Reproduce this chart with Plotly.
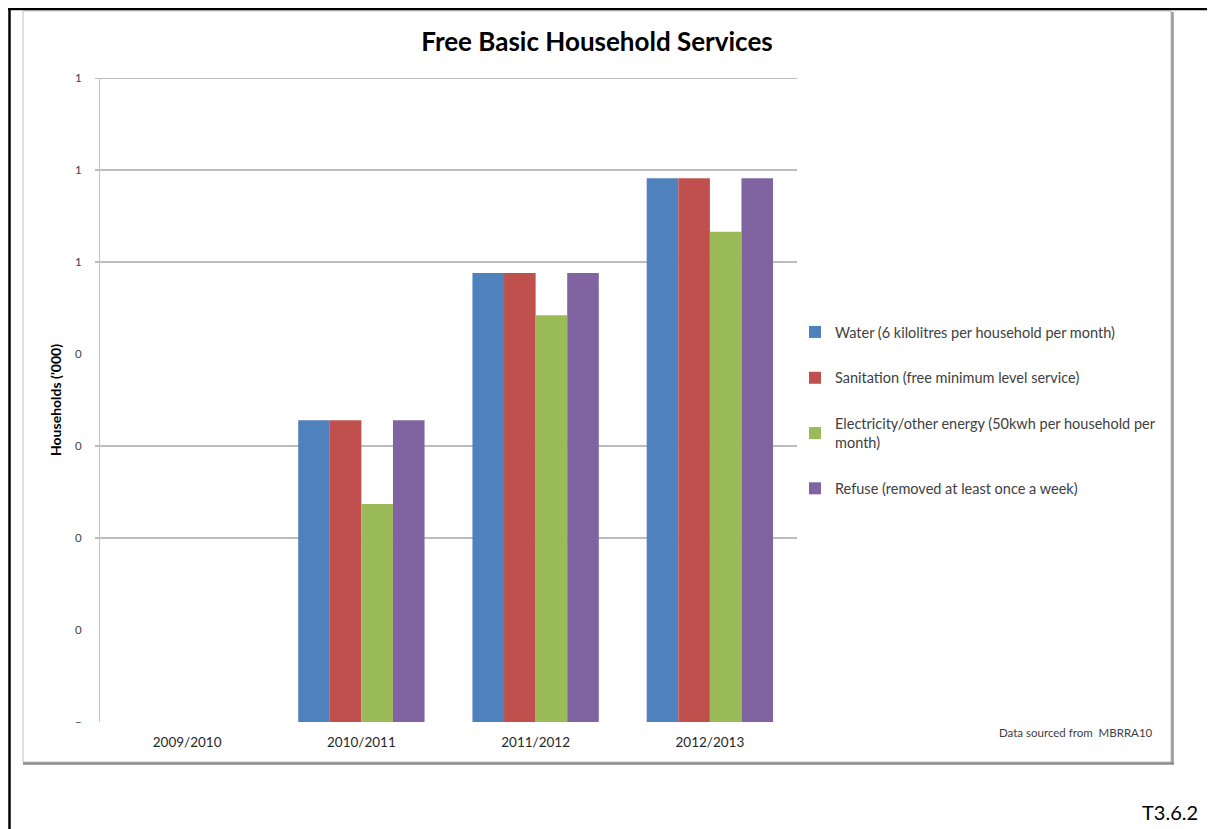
import plotly.graph_objects as go

# ---- data ----
categories = ["2009/2010", "2010/2011", "2011/2012", "2012/2013"]
water = [0, 0.328, 0.488, 0.591]
sanitation = [0, 0.328, 0.488, 0.591]
electricity = [0, 0.237, 0.442, 0.533]
refuse = [0, 0.328, 0.488, 0.591]
series_names = [
    "Water (6 kilolitres per household per month)",
    "Sanitation (free minimum level service)",
    "Electricity/other energy (50kwh per household per<br>month)",
    "Refuse (removed at least once a week)",
]
series_colors = ["#4F81BD", "#C0504D", "#9BBB59", "#8064A2"]
tick_values = [0, 0.1, 0.2, 0.3, 0.4, 0.5, 0.6, 0.7]
tick_labels = ["–", "0", "0", "0", "0", "1", "1", "1"]
grid_values = [0.2, 0.3, 0.5, 0.6, 0.7]

# page offset (browser body margin)
O = 8
W, H = 1207, 821
L, T = 100 - O, 78 - O
R = W - (797 - O)
B = H - (722 - O)
pw, ph = W - L - R, H - T - B

def px_x(p):  # page pixel -> paper x
    return (p - O - L) / pw

def px_y(p):  # page pixel -> paper y
    return (H - B - (p - O)) / ph

FONT = "Lato, Carlito, Arial"

fig = go.Figure()
for name, vals, col in zip(series_names, [water, sanitation, electricity, refuse], series_colors):
    fig.add_trace(go.Bar(x=categories, y=vals, name=name, marker_color=col,
                         marker_line_width=0, legendgroup=name))

shapes = []
for g in grid_values:
    shapes.append(dict(type="line", xref="paper", yref="y", x0=px_x(95), x1=1, y0=g, y1=g,
                       line=dict(color="#a6a6a6", width=1.3), layer="below"))
# inner chart frame with shadow
shapes.append(dict(type="rect", xref="paper", yref="paper", x0=px_x(23), x1=px_x(1171),
                   y0=px_y(762), y1=px_y(11), line=dict(color="#c0c0c0", width=1), layer="below"))
shapes.append(dict(type="line", xref="paper", yref="paper", x0=px_x(1172.5), x1=px_x(1172.5),
                   y0=px_y(764), y1=px_y(12), line=dict(color="#999999", width=2.5), layer="below"))
shapes.append(dict(type="line", xref="paper", yref="paper", x0=px_x(23), x1=px_x(1174),
                   y0=px_y(763.5), y1=px_y(763.5), line=dict(color="#8c8c8c", width=2.5), layer="below"))
# outer black frame (top and left)
shapes.append(dict(type="line", xref="paper", yref="paper", x0=px_x(8), x1=px_x(1215),
                   y0=px_y(9), y1=px_y(9), line=dict(color="#000000", width=2.5)))
shapes.append(dict(type="line", xref="paper", yref="paper", x0=px_x(9.5), x1=px_x(9.5),
                   y0=px_y(829), y1=px_y(8), line=dict(color="#000000", width=2.5)))

annotations = [
    dict(text="<b>Households ('000)</b>", textangle=-90, xref="paper", yref="paper",
         x=px_x(55), y=0.5, showarrow=False, xanchor="center", yanchor="middle",
         font=dict(family=FONT, size=14, color="#000000")),
    dict(text="Data sourced from  MBRRA10", xref="paper", yref="paper",
         x=px_x(1155), y=px_y(732), showarrow=False, xanchor="right", yanchor="middle",
         font=dict(family=FONT, size=11.5, color="#404040")),
    dict(text="T3.6.2", xref="paper", yref="paper",
         x=px_x(1200), y=px_y(812), showarrow=False, xanchor="right", yanchor="middle",
         font=dict(family=FONT, size=20, color="#000000")),
]

fig.update_layout(
    width=W, height=H,
    margin=dict(l=L, r=R, t=T, b=B),
    paper_bgcolor="white", plot_bgcolor="white",
    barmode="group", bargap=0.275, bargroupgap=0,
    title=dict(text="<b>Free Basic Household Services</b>", x=(597 - O) / W, xanchor="center",
               y=1 - (42 - O) / H, yanchor="middle",
               font=dict(family=FONT, size=26, color="#000000")),
    font=dict(family=FONT, color="#404040"),
    legend=dict(x=px_x(795), y=px_y(316), xanchor="left", yanchor="top",
                traceorder="grouped", tracegroupgap=24,
                font=dict(size=14.5, color="#404040"), bgcolor="rgba(0,0,0,0)"),
    shapes=shapes,
    annotations=annotations,
)
fig.update_yaxes(range=[0, 0.7], tickvals=tick_values, ticktext=tick_labels,
                 showgrid=False, zeroline=False, showline=True, linecolor="#c4c4c4",
                 linewidth=1.3, ticks="", ticklabelstandoff=15,
                 tickfont=dict(size=11.5, color="#404040"))
fig.update_xaxes(showgrid=False, showline=False, ticks="", ticklabelstandoff=10,
                 tickfont=dict(size=13.5, color="#262626"))

fig.write_html("out.html")
